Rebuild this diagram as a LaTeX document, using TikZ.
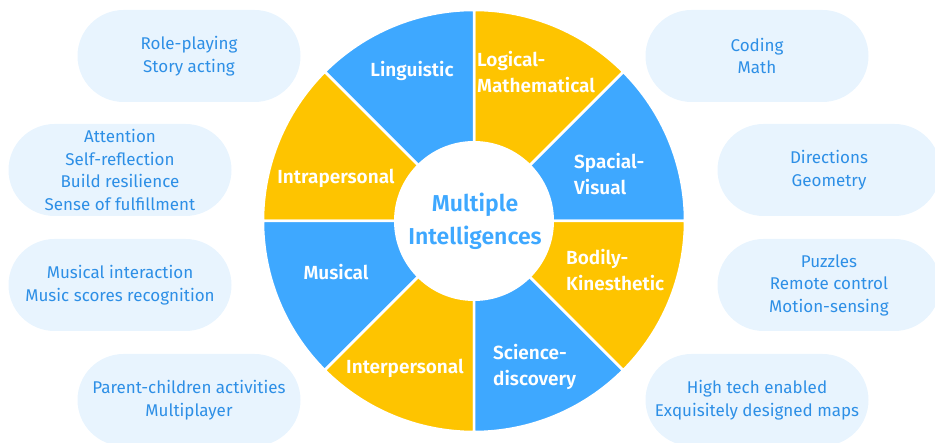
\documentclass[tikz,border=0pt]{standalone}
\usepackage{fontspec}
\setmainfont{Fira Sans}[BoldFont={Fira Sans SemiBold}]
\definecolor{wheelblue}{RGB}{62,168,255}
\definecolor{wheelyellow}{RGB}{254,196,0}
\definecolor{bubblefill}{RGB}{232,244,254}
\definecolor{bubbletext}{RGB}{45,143,230}
\tikzset{
  sector/.style={draw=white, line width=2.5pt},
  sectorlabel/.style={text=white, align=left, inner sep=0pt,
    font=\bfseries\fontsize{19}{26}\selectfont},
  bubble/.style={fill=bubblefill, rounded corners=46pt, inner sep=0pt,
    minimum width=223pt, minimum height=92pt, align=center,
    text=bubbletext, font=\fontsize{17}{22.5}\selectfont}
}
\begin{document}
\begin{tikzpicture}[x=1pt,y=1pt]
  \useasboundingbox (0,0) rectangle (935,443);
  \clip (0,0) rectangle (935,443);
  % wheel
  \foreach \a/\c in {0/wheelblue,45/wheelyellow,90/wheelblue,135/wheelyellow,
                     180/wheelblue,225/wheelyellow,270/wheelblue,315/wheelyellow}
    \filldraw[sector, fill=\c] (474,222) -- ++(\a:211)
      arc[start angle=\a, end angle=\a+45, radius=211] -- cycle;
  \fill[white] (474,222) circle[radius=80];
  \node[text=wheelblue, align=center, font=\bfseries\fontsize{23}{33}\selectfont]
    (hub) at (475,222) {Multiple\\Intelligences};
  % sector labels
  \node[sectorlabel] (linguistic) at (412,372) {Linguistic};
  \node[sectorlabel, anchor=west] (logical) at (477,371) {Logical-\\Mathematical};
  \node[sectorlabel, anchor=west] (spacial) at (574,269) {Spacial-\\Visual};
  \node[sectorlabel, anchor=west] (bodily) at (566,173) {Bodily-\\Kinesthetic};
  \node[sectorlabel, anchor=west] (science) at (493,76) {Science-\\discovery};
  \node[sectorlabel] (interpersonal) at (405,75) {Interpersonal};
  \node[sectorlabel] (musical) at (336,171) {Musical};
  \node[sectorlabel] (intrapersonal) at (336,265) {Intrapersonal};
  % bubbles
  \node[bubble] (roleplay) at (189,387) {Role-playing\\Story acting};
  \node[bubble] (attention) at (120,273) {Attention\\Self-reflection\\Build resilience\\Sense of fulfillment};
  \node[bubble] (musicbox) at (120,158) {Musical interaction\\Music scores recognition};
  \node[bubble] (parent) at (189,43) {Parent-children activities\\Multiplayer};
  \node[bubble] (coding) at (757,387) {Coding\\Math};
  \node[bubble] (directions) at (829,273) {Directions\\Geometry};
  \node[bubble] (puzzles) at (829,158) {Puzzles\\Remote control\\Motion-sensing};
  \node[bubble] (hightech) at (757,43) {High tech enabled\\Exquisitely designed maps};
\end{tikzpicture}
\end{document}
